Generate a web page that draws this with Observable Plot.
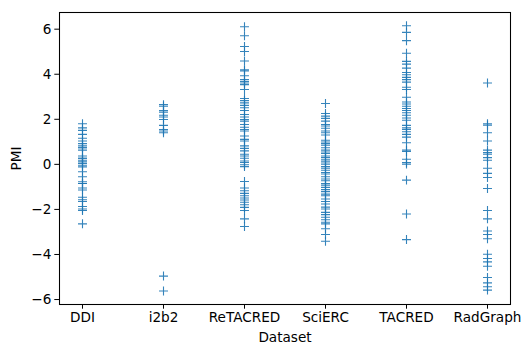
<!DOCTYPE html>
<html>
<head>
<meta charset="utf-8">
<script src="https://cdn.jsdelivr.net/npm/d3@7"></script>
<script src="https://cdn.jsdelivr.net/npm/@observablehq/plot@0.6"></script>
<style>
  html, body { margin: 0; padding: 0; background: #fff; }
</style>
</head>
<body>
<div id="chart"></div>
<script>
const datasets = ["DDI", "i2b2", "ReTACRED", "SciERC", "TACRED", "RadGraph"];

const ddi = [1.80, 1.62, 1.51, 1.33, 1.16, 1.04, 0.92, 0.82, 0.74, 0.74, 0.63, 0.37, 0.27, 0.27, 0.18, 0.11, 0.04, -0.04, -0.11, -0.33, -0.55, -0.77, -0.85, -0.85, -1.05, -1.14, -1.46, -1.57, -1.65, -1.87, -1.98, -2.05, -2.64];
const i2b2 = [2.65, 2.58, 2.39, 2.32, 2.18, 2.10, 1.99, 1.73, 1.55, 1.48, 1.40, -4.96, -5.62];
const retacred = [6.11, 5.71, 5.23, 5.01, 4.59, 4.20, 4.15, 3.93, 3.76, 3.68, 3.61, 3.54, 3.32, 2.92, 2.83, 2.73, 2.62, 2.51, 2.39, 2.21, 2.10, 1.99, 1.92, 1.77, 1.65, 1.55, 1.48, 1.26, 1.11, 1.04, 0.82, 0.71, 0.60, 0.45, 0.37, 0.27, 0.15, 0.08, -0.02, -0.10, -0.76, -1.05, -1.17, -1.29, -1.39, -1.49, -1.58, -1.68, -1.79, -1.91, -2.05, -2.42, -2.76];
const scierc = [2.70, 2.26, 2.14, 2.04, 1.92, 1.77, 1.70, 1.60, 1.48, 1.40, 1.30, 1.07, 0.99, 0.92, 0.85, 0.74, 0.63, 0.55, 0.48, 0.37, 0.30, 0.20, 0.11, 0.01, -0.10, -0.17, -0.26, -0.36, -0.43, -0.55, -0.65, -0.73, -0.85, -0.92, -1.02, -1.12, -1.21, -1.32, -1.39, -1.54, -1.65, -1.76, -1.90, -1.98, -2.13, -2.23, -2.35, -2.46, -2.57, -2.64, -2.86, -3.11, -3.41];
const tacred = [6.15, 5.86, 5.49, 4.93, 4.57, 4.45, 4.27, 4.08, 3.98, 3.86, 3.76, 3.65, 3.42, 3.32, 2.98, 2.77, 2.68, 2.58, 2.48, 2.39, 2.29, 2.18, 2.06, 1.96, 1.73, 1.62, 1.55, 1.45, 1.33, 1.21, 0.96, 0.63, 0.57, 0.23, 0.08, 0.01, -0.70, -2.20, -3.34];
const radgraph = [3.61, 1.80, 1.74, 1.40, 1.04, 0.63, 0.52, 0.45, 0.30, 0.18, -0.17, -0.40, -0.58, -1.07, -2.05, -2.42, -2.96, -3.11, -3.30, -3.99, -4.18, -4.33, -4.52, -5.02, -5.26, -5.43, -5.58];

const yTicks = [-6, -4, -2, 0, 2, 4, 6];

const series = [ddi, i2b2, retacred, scierc, tacred, radgraph];
const data = datasets.flatMap((name, i) => series[i].map(v => ({dataset: name, pmi: v})));

const fs = 13.6;
const chart = Plot.plot({
  width: 523,
  height: 344,
  marginLeft: 59,
  marginRight: 13,
  marginTop: 12,
  marginBottom: 40,
  style: {fontFamily: "DejaVu Sans", fontSize: fs + "px", color: "black", background: "white"},
  x: {type: "point", domain: datasets, padding: 0.265},
  y: {domain: [-6.22, 6.74]},
  marks: [
    Plot.dot(data, {x: "dataset", y: "pmi", symbol: "plus", r: 3.0, stroke: "#1f77b4", strokeWidth: 1.1, strokeOpacity: 0.9}),
    Plot.frame({stroke: "black", strokeWidth: 1.07}),
    Plot.axisX({tickSize: 4.7, tickPadding: 3.5, fontSize: fs, label: "Dataset", labelAnchor: "center", labelArrow: "none", labelOffset: 37.5}),
    Plot.axisY({ticks: yTicks, tickSize: 4.7, tickPadding: 3.5, fontSize: fs, tickFormat: d3.format("d"), label: "PMI", labelAnchor: "center", labelArrow: "none", labelOffset: 48})
  ]
});
document.getElementById("chart").appendChild(chart);
</script>
</body>
</html>
